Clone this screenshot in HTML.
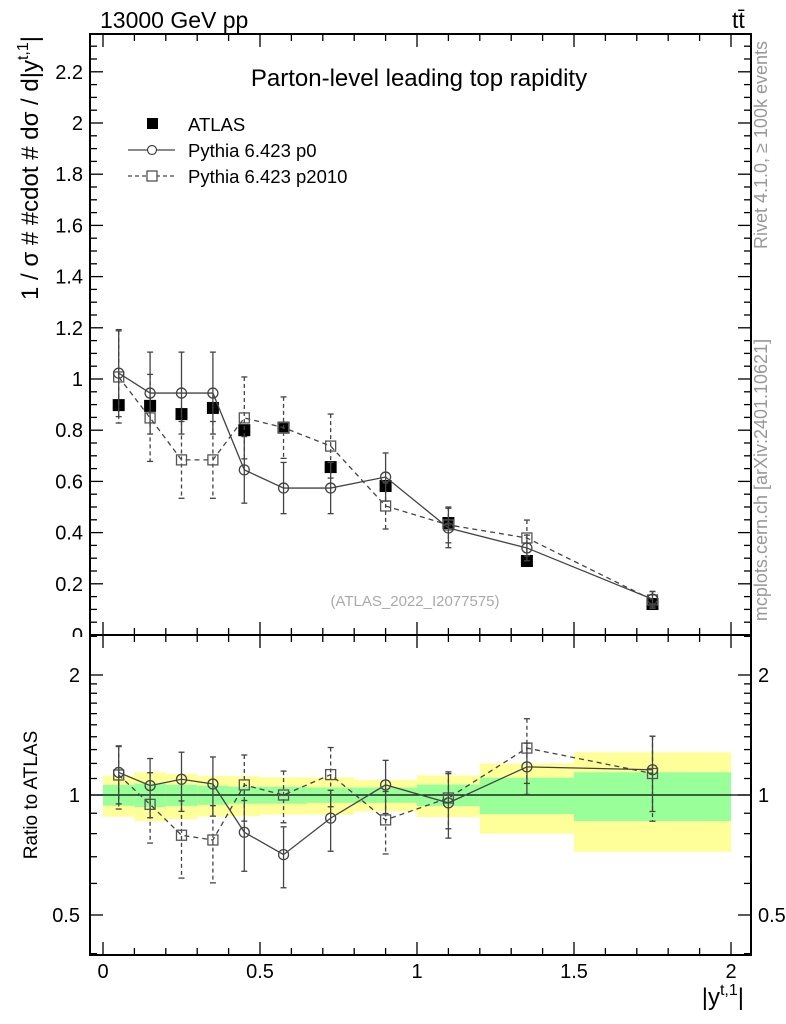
<!DOCTYPE html>
<html><head><meta charset="utf-8"><style>
html,body{margin:0;padding:0;background:#fff;}
svg{display:block;font-family:"Liberation Sans",sans-serif;}
</style></head><body>
<svg id="chart" width="786" height="1024" viewBox="0 0 786 1024" xmlns="http://www.w3.org/2000/svg">
<text x="100" y="28" font-size="23">13000 GeV pp</text>
<text x="732" y="28" font-size="23">tt̄</text>
<text x="419" y="86" font-size="24" text-anchor="middle">Parton-level leading top rapidity</text>
<text x="415" y="606" font-size="15" fill="#aaa" text-anchor="middle">(ATLAS_2022_I2077575)</text>
<text transform="translate(767,145) rotate(-90)" font-size="18" fill="#999" text-anchor="middle">Rivet 4.1.0, ≥ 100k events</text>
<text transform="translate(767,480) rotate(-90)" font-size="18" fill="#999" text-anchor="middle">mcplots.cern.ch [arXiv:2401.10621]</text>
<text transform="translate(38,168) rotate(-90)" font-size="24" text-anchor="middle">1 / σ # #cdot # dσ / d|y<tspan dy="-10" font-size="16">t,1</tspan><tspan dy="10">|</tspan></text>
<text transform="translate(37,795) rotate(-90)" font-size="19" text-anchor="middle">Ratio to ATLAS</text>
<text x="744" y="1005" font-size="24" text-anchor="end">|y<tspan dy="-10" font-size="16">t,1</tspan><tspan dy="10">|</tspan></text>
<g id="legend">
<rect x="147" y="118" width="11" height="11" fill="#000"/>
<text x="188" y="131" font-size="18.5">ATLAS</text>
<line x1="128" y1="150" x2="175" y2="150" stroke="#444" stroke-width="1.2"/>
<circle cx="152" cy="150" r="4.5" fill="#fff" stroke="#444" stroke-width="1.2"/>
<text x="188" y="157" font-size="18.5">Pythia 6.423 p0</text>
<line x1="128" y1="176" x2="175" y2="176" stroke="#444" stroke-width="1.2" stroke-dasharray="4,3"/>
<rect x="147" y="171" width="10" height="10" fill="#fff" stroke="#444" stroke-width="1.2"/>
<text x="188" y="183" font-size="18.5">Pythia 6.423 p2010</text>
</g>
</svg>
<script>
const binEdges=[0,0.1,0.2,0.3,0.4,0.5,0.65,0.8,1.0,1.2,1.5,2.0];
const xCenters=[0.05,0.15,0.25,0.35,0.45,0.575,0.725,0.9,1.1,1.35,1.75];
const atlasVals=[0.898,0.895,0.863,0.887,0.80,0.81,0.656,0.582,0.4375,0.289,0.121];
const atlasStatRel=[0.06,0.068,0.061,0.055,0.049,0.049,0.044,0.044,0.062,0.105,0.14];
const atlasTotRel=[0.118,0.14,0.13,0.117,0.115,0.107,0.107,0.09,0.12,0.2,0.28];
const p0Vals=[1.023,0.945,0.945,0.945,0.645,0.574,0.574,0.617,0.418,0.34,0.14];
const p0Errs=[0.17,0.16,0.16,0.16,0.13,0.10,0.10,0.094,0.077,0.05,0.03];
const p2010Vals=[1.008,0.848,0.684,0.684,0.848,0.81,0.738,0.504,0.43,0.379,0.137];
const p2010Errs=[0.18,0.17,0.15,0.15,0.16,0.12,0.125,0.09,0.07,0.07,0.033];
const yTicks=[0.2,0.4,0.6,0.8,1,1.2,1.4,1.6,1.8,2,2.2];
const yTickLabels=["0.2","0.4","0.6","0.8","1","1.2","1.4","1.6","1.8","2","2.2"];
const xTicks=[0,0.5,1,1.5,2];
const xTickLabels=["0","0.5","1","1.5","2"];
const rTicks=[0.5,1,2];
const rTickLabels=["0.5","1","2"];

const svg=document.getElementById('chart');
const NS='http://www.w3.org/2000/svg';
const L=90,R=751,T=34,M=635,B=955;
function X(v){return 103+v*314;}
function Y(v){return 635-v*256;}
function RY(v){return 795-120*Math.log2(v);}
function mk(tag,attrs,parent){const e=document.createElementNS(NS,tag);for(const k in attrs)e.setAttribute(k,attrs[k]);(parent||svg).appendChild(e);return e;}

const bands=mk('g',{});


for(let i=0;i<xCenters.length;i++){
  const x0=X(binEdges[i]),x1=X(binEdges[i+1]);
  const y=mk('rect',{x:x0,y:RY(1+atlasTotRel[i]),width:x1-x0,height:RY(1-atlasTotRel[i])-RY(1+atlasTotRel[i]),fill:'#ffff99'},bands);
  
  
  const g=mk('rect',{x:x0,y:RY(1+atlasStatRel[i]),width:x1-x0,height:RY(1-atlasStatRel[i])-RY(1+atlasStatRel[i]),fill:'#99ff99'},bands);
  
  
}
mk('line',{x1:L,x2:R,y1:RY(1),y2:RY(1),stroke:'#000','stroke-width':1.3});

const f1=mk('rect',{x:L,y:T,width:R-L,height:M-T,fill:'none',stroke:'#000','stroke-width':2});


const f2=mk('rect',{x:L,y:M,width:R-L,height:B-M,fill:'none',stroke:'#000','stroke-width':2});



const ax=mk('g',{stroke:'#000','stroke-width':1.3});


for(let k=0;k<=20;k++){
  const v=k*0.1, x=X(v), len=(k%5==0)?13:7;
  mk('line',{x1:x,x2:x,y1:B,y2:B-len},ax);
  mk('line',{x1:x,x2:x,y1:M,y2:M-len},ax);
  mk('line',{x1:x,x2:x,y1:T,y2:T+len},ax);
  mk('line',{x1:x,x2:x,y1:M,y2:M+len},ax);
}
xTicks.forEach((v,i)=>{const t=mk('text',{x:X(v),y:978,'font-size':20,'text-anchor':'middle'});t.textContent=xTickLabels[i];

});
for(let k=0;k<=46;k++){
  const v=k*0.05,y=Y(v);if(y<T)continue;const len=(k%4==0)?13:7;
  mk('line',{x1:L,x2:L+len,y1:y,y2:y},ax);
  mk('line',{x1:R,x2:R-len,y1:y,y2:y},ax);
}
yTicks.forEach((v,i)=>{const t=mk('text',{x:83,y:Y(v)+7,'font-size':20,'text-anchor':'end'});t.textContent=yTickLabels[i];

});
const z=mk('text',{x:83,y:Y(0)+7,'font-size':20,'text-anchor':'end'});z.textContent='0';
z.setAttribute('clip-path','inset(0 0 10px 0)');
const rminor=[0.4,0.6,0.7,0.8,0.9,1.1,1.2,1.3,1.4,1.5,1.6,1.7,1.8,1.9,2.5];
rminor.forEach(v=>{const y=RY(v);if(y<M+1||y>B-1)return;mk('line',{x1:L,x2:L+7,y1:y,y2:y},ax);mk('line',{x1:R,x2:R-7,y1:y,y2:y},ax);});
rTicks.forEach((v,i)=>{const y=RY(v);mk('line',{x1:L,x2:L+13,y1:y,y2:y},ax);mk('line',{x1:R,x2:R-13,y1:y,y2:y},ax);
  const t=mk('text',{x:80,y:y+7,'font-size':20,'text-anchor':'end'});t.textContent=rTickLabels[i];
  
  
  const t2=mk('text',{x:758,y:y+7,'font-size':20});t2.textContent=rTickLabels[i];
  
  });

function errbar(g,x,y1,y2,dash){
  mk('line',{x1:x,x2:x,y1:y1,y2:y2,stroke:'#444','stroke-width':1.3,'stroke-dasharray':dash?'4,3':'none'},g);
  mk('line',{x1:x-3,x2:x+3,y1:y1,y2:y1,stroke:'#444','stroke-width':1.3},g);
  mk('line',{x1:x-3,x2:x+3,y1:y2,y2:y2,stroke:'#444','stroke-width':1.3},g);
}
function series(vals,errs,dash,shape,name,ratio){
  const g=mk('g',{});
  
  
  const fy=ratio?(i,v)=>RY(v/atlasVals[i]):(i,v)=>Y(v);
  const pts=vals.map((v,i)=>X(xCenters[i])+','+fy(i,v)).join(' ');
  mk('polyline',{points:pts,fill:'none',stroke:'#444','stroke-width':1.3,'stroke-dasharray':dash?'5,4':'none'},g);
  vals.forEach((v,i)=>{
    const x=X(xCenters[i]);errbar(g,x,fy(i,v+errs[i]),fy(i,Math.max(v-errs[i],0.01)),dash);
    const y=fy(i,v);
    let m;
    if(shape=='c')m=mk('circle',{cx:x,cy:y,r:5,fill:'none',stroke:'#444','stroke-width':1.3},g);
    else m=mk('rect',{x:x-5,y:y-5,width:10,height:10,fill:'none',stroke:'#555','stroke-width':1.3},g);
    
    
  });
}
const ag=mk('g',{});


series(p2010Vals,p2010Errs,true,'s','p2010-main',false);
series(p0Vals,p0Errs,false,'c','p0-main',false);
atlasVals.forEach((v,i)=>{
  const x=X(xCenters[i]);
  mk('line',{x1:x,x2:x,y1:Y(v*(1+atlasStatRel[i]*0.5)),y2:Y(v*(1-atlasStatRel[i]*0.5)),stroke:'#000','stroke-width':1.3},ag);
  const r=mk('rect',{x:x-6,y:Y(v)-6,width:12,height:12,fill:'#000'},ag);
  
  
});
series(p2010Vals,p2010Errs,true,'s','p2010-ratio',true);
series(p0Vals,p0Errs,false,'c','p0-ratio',true);
</script>
</body></html>
